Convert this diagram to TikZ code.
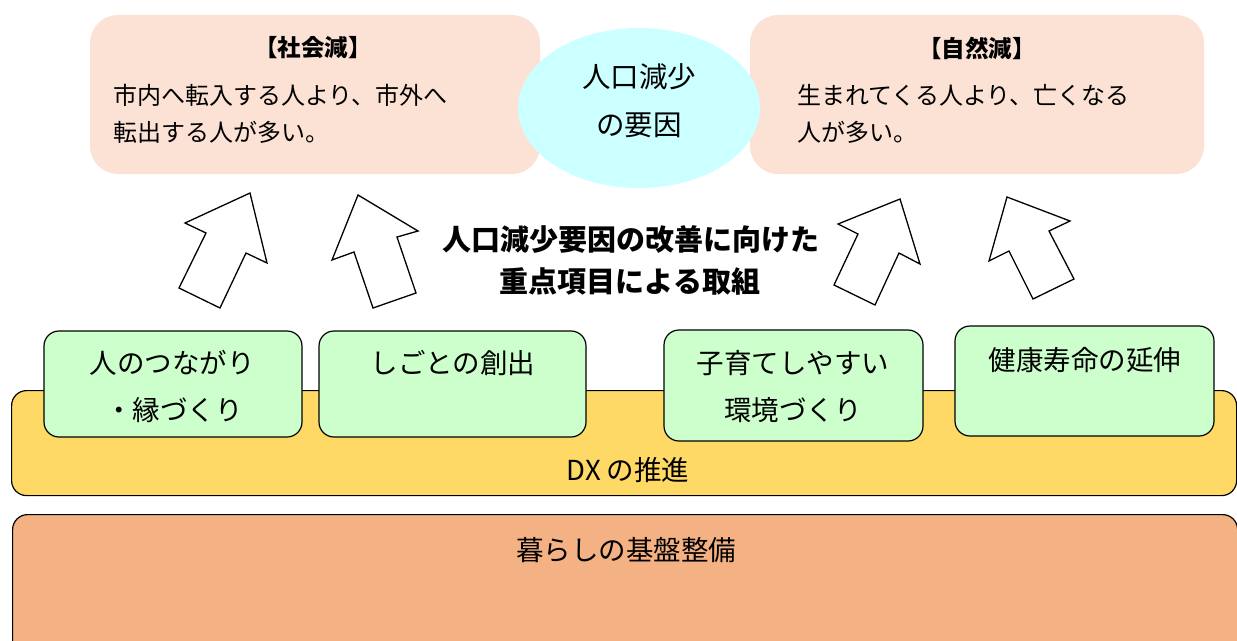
\documentclass[tikz,border=0pt]{standalone}
\usepackage{fontspec}
\setmainfont{Noto Sans CJK JP}
\usetikzlibrary{shapes.geometric}
\definecolor{peach}{HTML}{FBE2D5}
\definecolor{cyanlt}{HTML}{CCFFFF}
\definecolor{greenlt}{HTML}{CCFFCC}
\definecolor{dxyellow}{HTML}{FFD966}
\definecolor{baseorange}{HTML}{F4B183}
\tikzset{
  topbox/.style={fill=peach, rounded corners=28pt, inner sep=0pt},
  bar/.style={draw=black, line width=1.2pt, rounded corners=15pt, inner sep=0pt},
  greenbox/.style={draw=black, line width=1.2pt, fill=greenlt, rounded corners=15pt, inner sep=0pt},
  uparrow/.style={draw=black, fill=white, line width=1.3pt, line join=miter},
  ttl/.style={inner sep=0pt, font=\fontsize{23.5}{23.5}\selectfont\bfseries},
  body/.style={inner sep=0pt, anchor=west, font=\fontsize{24}{24}\selectfont},
  lbl/.style={inner sep=0pt, font=\fontsize{27.5}{27.5}\selectfont},
  elbl/.style={inner sep=0pt, font=\fontsize{28.5}{28.5}\selectfont},
  mid/.style={inner sep=0pt, font=\fontsize{29}{29}\selectfont\bfseries}
}
\begin{document}
\begin{tikzpicture}[x=1pt,y=-1pt]
\useasboundingbox (0,0) rectangle (1237,640);
\clip (0,0) rectangle (1237,640);
% top boxes
\node[topbox, minimum width=450pt, minimum height=159pt] (soc) at (315,94.5) {};
\node[topbox, minimum width=454pt, minimum height=159pt] (nat) at (977,94.5) {};
\node[ttl] (socT) at (313,48) {【社会減】};
\node[body] (soc1) at (113,95) {市内へ転入する人より、市外へ};
\node[body] (soc2) at (113,132) {転出する人が多い。};
\node[ttl] (natT) at (977,48) {【自然減】};
\node[body] (nat1) at (797,95) {生まれてくる人より、亡くなる};
\node[body] (nat2) at (797,132) {人が多い。};
% ellipse
\node[ellipse, fill=cyanlt, minimum width=242pt, minimum height=160pt, inner sep=0pt] (cause) at (639,108) {};
\node[elbl] (cause1) at (639,77) {人口減少};
\node[elbl] (cause2) at (639,125) {の要因};
% arrows
\draw[uparrow] (250,193) -- (267,263) -- (246,253) -- (220,308) -- (179,288) -- (206,233) -- (185,223) -- cycle;
\draw[uparrow] (358,195) -- (418,231) -- (397,237) -- (416,293) -- (373,308) -- (354,252) -- (332,260) -- cycle;
\draw[uparrow] (900,199) -- (920,264) -- (899,253) -- (875,305) -- (834,285) -- (858,234) -- (838,224) -- cycle;
\draw[uparrow] (1007,197) -- (1070,221) -- (1049,231) -- (1074,279) -- (1033,299) -- (1009,251) -- (989,261) -- cycle;
% middle text
\node[mid] (mid1) at (631,240) {人口減少要因の改善に向けた};
\node[mid] (mid2) at (630,281) {重点項目による取組};
% bars
\node[bar, fill=baseorange, minimum width=1225pt, minimum height=150pt, anchor=north west] (base) at (12,514) {};
\node[lbl] (baseT) at (626,550) {暮らしの基盤整備};
\node[bar, fill=dxyellow, minimum width=1225pt, minimum height=105pt, anchor=north west] (dx) at (11,390) {};
\node[lbl] (dxT) at (628,470) {DX の推進};
% green boxes
\node[greenbox, minimum width=258pt, minimum height=106pt] (g1) at (173,384) {};
\node[greenbox, minimum width=267pt, minimum height=106pt] (g2) at (452.5,384) {};
\node[greenbox, minimum width=259pt, minimum height=111pt] (g3) at (793.5,385.5) {};
\node[greenbox, minimum width=259pt, minimum height=110pt] (g4) at (1084.5,381) {};
\node[lbl] (g1a) at (172,363) {人のつながり};
\node[lbl] (g1b) at (174,410) {・縁づくり};
\node[lbl] (g2a) at (453,363) {しごとの創出};
\node[lbl] (g3a) at (793,363) {子育てしやすい};
\node[lbl] (g3b) at (793,410) {環境づくり};
\node[lbl] (g4a) at (1085,360) {健康寿命の延伸};
\end{tikzpicture}
\end{document}
